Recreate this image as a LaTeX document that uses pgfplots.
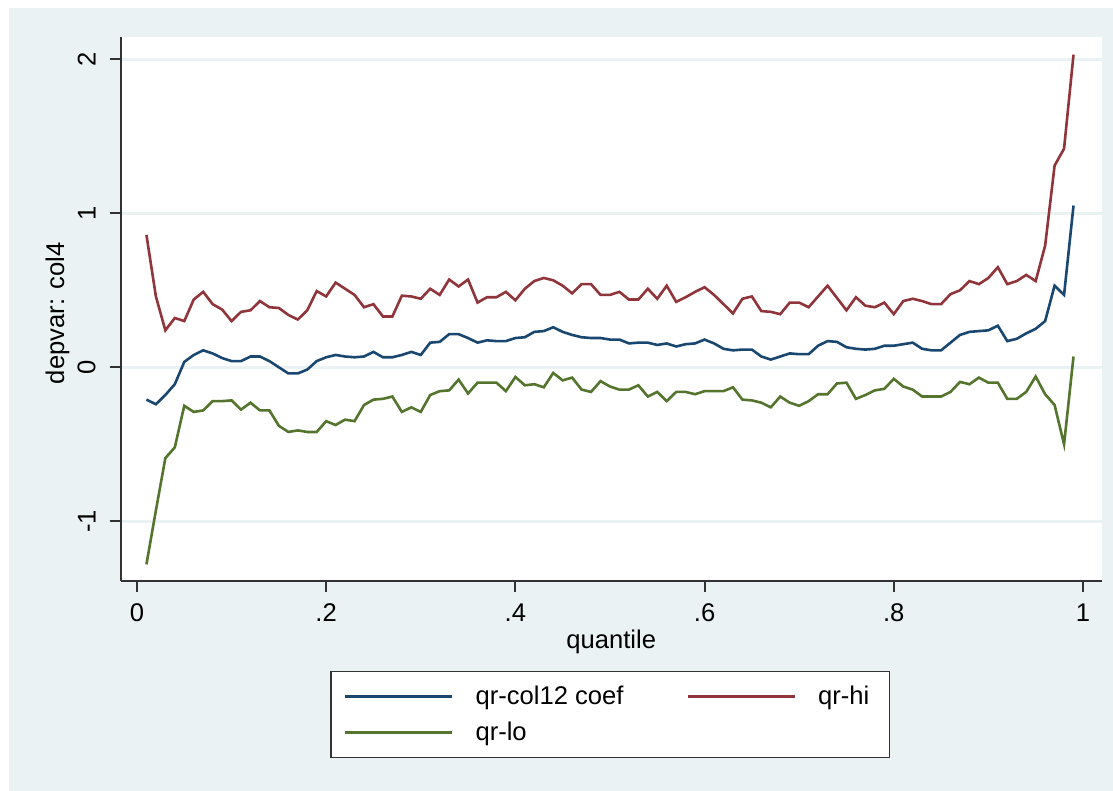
\documentclass[border=0pt]{standalone}
\usepackage{pgfplots}
\pgfplotsset{compat=1.18}
\usepackage{pgfplotstable}
\usepackage{fontspec}
\setmainfont{Liberation Sans}
\definecolor{stbg}{RGB}{234,242,243}
\definecolor{stnavy}{RGB}{26,71,111}
\definecolor{stmaroon}{RGB}{144,53,59}
\definecolor{stgreen}{RGB}{85,117,47}
\definecolor{staxis}{RGB}{50,50,50}
\newcommand{\chartfont}{\fontsize{12.8}{15}\selectfont}

\pgfplotstableread{
q coef hi lo
0.01 -0.21 0.86 -1.28
0.02 -0.24 0.46 -0.93
0.03 -0.18 0.24 -0.59
0.04 -0.11 0.32 -0.52
0.05 0.035 0.30 -0.25
0.06 0.08 0.44 -0.29
0.07 0.11 0.49 -0.28
0.08 0.09 0.41 -0.22
0.09 0.06 0.375 -0.22
0.10 0.04 0.30 -0.215
0.11 0.04 0.36 -0.275
0.12 0.07 0.37 -0.23
0.13 0.07 0.43 -0.28
0.14 0.04 0.39 -0.28
0.15 0.00 0.385 -0.38
0.16 -0.04 0.34 -0.42
0.17 -0.04 0.31 -0.41
0.18 -0.015 0.37 -0.42
0.19 0.04 0.495 -0.42
0.20 0.065 0.46 -0.35
0.21 0.08 0.55 -0.375
0.22 0.07 0.51 -0.34
0.23 0.065 0.47 -0.35
0.24 0.07 0.39 -0.245
0.25 0.10 0.41 -0.21
0.26 0.065 0.33 -0.205
0.27 0.065 0.33 -0.19
0.28 0.08 0.465 -0.29
0.29 0.10 0.46 -0.26
0.30 0.08 0.445 -0.29
0.31 0.16 0.51 -0.18
0.32 0.165 0.47 -0.155
0.33 0.215 0.57 -0.15
0.34 0.215 0.525 -0.08
0.35 0.19 0.57 -0.17
0.36 0.16 0.42 -0.10
0.37 0.175 0.455 -0.10
0.38 0.17 0.455 -0.10
0.39 0.17 0.49 -0.155
0.40 0.19 0.435 -0.063
0.41 0.195 0.51 -0.117
0.42 0.23 0.56 -0.11
0.43 0.235 0.58 -0.13
0.44 0.26 0.565 -0.037
0.45 0.23 0.53 -0.085
0.46 0.21 0.48 -0.067
0.47 0.195 0.54 -0.145
0.48 0.19 0.54 -0.16
0.49 0.19 0.47 -0.09
0.50 0.18 0.47 -0.125
0.51 0.18 0.49 -0.145
0.52 0.155 0.44 -0.145
0.53 0.16 0.44 -0.117
0.54 0.16 0.51 -0.19
0.55 0.145 0.445 -0.16
0.56 0.155 0.53 -0.22
0.57 0.135 0.425 -0.16
0.58 0.15 0.455 -0.16
0.59 0.155 0.49 -0.175
0.60 0.18 0.52 -0.155
0.61 0.155 0.47 -0.155
0.62 0.12 0.41 -0.155
0.63 0.11 0.35 -0.13
0.64 0.115 0.445 -0.21
0.65 0.115 0.46 -0.215
0.66 0.07 0.365 -0.23
0.67 0.05 0.36 -0.26
0.68 0.07 0.345 -0.19
0.69 0.09 0.42 -0.23
0.70 0.085 0.42 -0.25
0.71 0.085 0.39 -0.22
0.72 0.14 0.46 -0.175
0.73 0.17 0.53 -0.175
0.74 0.165 0.45 -0.105
0.75 0.13 0.37 -0.10
0.76 0.12 0.455 -0.205
0.77 0.115 0.40 -0.18
0.78 0.12 0.39 -0.15
0.79 0.14 0.42 -0.14
0.80 0.14 0.345 -0.075
0.81 0.15 0.43 -0.125
0.82 0.16 0.445 -0.145
0.83 0.12 0.43 -0.19
0.84 0.11 0.41 -0.19
0.85 0.11 0.41 -0.19
0.86 0.16 0.475 -0.16
0.87 0.21 0.50 -0.095
0.88 0.23 0.56 -0.11
0.89 0.235 0.54 -0.067
0.90 0.24 0.58 -0.10
0.91 0.27 0.65 -0.10
0.92 0.17 0.54 -0.205
0.93 0.185 0.56 -0.205
0.94 0.22 0.60 -0.16
0.95 0.25 0.56 -0.06
0.96 0.30 0.79 -0.175
0.97 0.53 1.31 -0.245
0.98 0.47 1.42 -0.50
0.99 1.05 2.03 0.07
}\qrdata

\begin{document}
\begin{tikzpicture}
\fill[white] (-60.35pt,-105pt) rectangle (496.15pt,290.5pt);
\fill[stbg] (-55.85pt,-105pt) rectangle (496.15pt,286.5pt);
\begin{axis}[
  at={(0,0)}, anchor=south west,
  scale only axis, width=490.5pt, height=272.15pt,
  xmin=-0.0172, xmax=1.0198, ymin=-1.388, ymax=2.147,
  axis lines=left,
  axis line style={-, draw=staxis, line width=1pt},
  axis background/.style={fill=white},
  tick align=outside, major tick length=5.5pt,
  tick style={draw=staxis, line width=1pt},
  xtick={0,0.2,0.4,0.6,0.8,1}, xticklabels={0,.2,.4,.6,.8,1},
  ytick={-1,0,1,2}, yticklabels={-1,0,1,2},
  ymajorgrids, xmajorgrids=false,
  grid style={draw=stbg, line width=1.3pt},
  tick label style={font=\chartfont},
  xticklabel style={anchor=north, inner sep=0pt, yshift=-5.5pt},
  yticklabel style={xshift=-6.85pt, rotate=90, anchor=south, inner sep=0pt},
  xlabel={quantile},
  xlabel style={font=\chartfont, at={(axis description cs:0.5,0)}, anchor=north, inner sep=0pt, yshift=-24.5pt},
  ylabel={depvar: col4},
  ylabel style={font=\chartfont, at={(axis description cs:-0.0518,0.492)}, rotate=0, anchor=south, inner sep=0pt},
  legend columns=2,
  legend cell align=left,
  legend image code/.code={\draw[#1] (0pt,0pt) -- (53.5pt,0pt);},
  legend style={at={(axis description cs:0.4988,-0.2453)}, anchor=center,
    draw=staxis, line width=0.6pt, fill=white, font=\chartfont,
    inner xsep=6.5pt, inner ysep=7pt,
    nodes={inner sep=0pt},
    row sep=7.5pt,
    /tikz/every odd column/.append style={column sep=11pt},
    /tikz/every even column/.append style={column sep=0pt}},
]
\addplot[stnavy, line width=1.3pt] table[x=q, y=coef] {\qrdata};
\addlegendentry{\makebox[105.5pt][l]{qr-col12 coef}}
\addplot[stmaroon, line width=1.3pt] table[x=q, y=hi] {\qrdata};
\addlegendentry{\makebox[29pt][l]{qr-hi}}
\addplot[stgreen, line width=1.3pt] table[x=q, y=lo] {\qrdata};
\addlegendentry{\makebox[29pt][l]{qr-lo}}
\end{axis}
\end{tikzpicture}
\end{document}
